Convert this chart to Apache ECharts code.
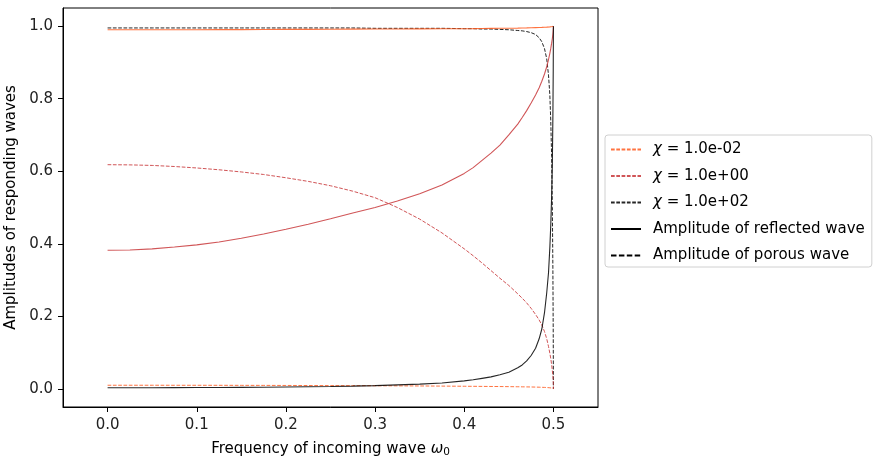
<!DOCTYPE html>
<html>
<head>
<meta charset="utf-8">
<script src="https://cdn.jsdelivr.net/npm/echarts@6/dist/echarts.min.js"></script>
<style>
  html, body { margin: 0; padding: 0; background: #fff; }
  #chart { width: 879px; height: 463px; }
</style>
</head>
<body>
<div id="chart"></div>
<script>
// Frequency samples (omega_0)
const omega = [0, 0.025, 0.05, 0.075, 0.1, 0.125, 0.15, 0.175, 0.2, 0.225, 0.25, 0.275, 0.3, 0.325, 0.35, 0.375, 0.4,
  0.41, 0.42, 0.43, 0.44, 0.45, 0.46, 0.465, 0.47, 0.475, 0.48, 0.484, 0.487, 0.49,
  0.4925, 0.4945, 0.496, 0.497, 0.498, 0.4988, 0.4994, 0.4998, 0.5];

// chi = 1e-2
const reflChi001 = [0.990, 0.990, 0.990, 0.990, 0.990, 0.9903, 0.9905, 0.9908, 0.991, 0.9912, 0.9915, 0.9918, 0.992, 0.9922, 0.9925, 0.9928, 0.993,
  0.9932, 0.9935, 0.9937, 0.994, 0.9943, 0.9946, 0.995, 0.9952, 0.9955, 0.9958, 0.9961, 0.9965, 0.997,
  0.9972, 0.9975, 0.998, 0.998, 0.9985, 0.999, 0.9995, 0.9998, 1.0];
const porChi001 = [0.0100, 0.0100, 0.0100, 0.0099, 0.0099, 0.0098, 0.0097, 0.0096, 0.0094, 0.0092, 0.0090, 0.0088, 0.0086, 0.0083, 0.0080, 0.0076, 0.0072,
  0.0070, 0.0068, 0.0066, 0.0064, 0.0061, 0.0058, 0.0056, 0.0054, 0.0052, 0.0049, 0.0046, 0.0043, 0.0040,
  0.0037, 0.0034, 0.0030, 0.0027, 0.0024, 0.0020, 0.0015, 0.0010, 0.0];

// chi = 1
const reflChi1 = [0.382, 0.383, 0.386, 0.391, 0.397, 0.405, 0.415, 0.427, 0.440, 0.454, 0.469, 0.485, 0.500, 0.518, 0.538, 0.562, 0.594,
  0.610, 0.630, 0.650, 0.672, 0.700, 0.730, 0.748, 0.767, 0.788, 0.810, 0.830, 0.848, 0.868,
  0.888, 0.908, 0.925, 0.938, 0.953, 0.966, 0.978, 0.990, 1.0];
const porChi1 = [0.618, 0.6175, 0.616, 0.613, 0.609, 0.604, 0.598, 0.591, 0.582, 0.572, 0.560, 0.545, 0.527, 0.500, 0.468, 0.430, 0.386,
  0.367, 0.347, 0.326, 0.305, 0.285, 0.262, 0.250, 0.237, 0.222, 0.205, 0.190, 0.176, 0.158,
  0.138, 0.117, 0.098, 0.084, 0.067, 0.050, 0.035, 0.018, 0.0];

// chi = 1e2
const reflChi100 = [0.003, 0.003, 0.0032, 0.0034, 0.0036, 0.0039, 0.0042, 0.0046, 0.0050, 0.0057, 0.0065, 0.0075, 0.009, 0.011, 0.013, 0.016, 0.022,
  0.025, 0.029, 0.033, 0.039, 0.046, 0.058, 0.066, 0.077, 0.092, 0.112, 0.138, 0.165, 0.210,
  0.265, 0.320, 0.390, 0.450, 0.530, 0.620, 0.750, 0.880, 1.0];
const porChi100 = [0.995, 0.995, 0.995, 0.995, 0.995, 0.995, 0.995, 0.995, 0.995, 0.995, 0.995, 0.995, 0.994, 0.994, 0.994, 0.994, 0.993,
  0.993, 0.992, 0.992, 0.991, 0.990, 0.988, 0.987, 0.985, 0.982, 0.977, 0.968, 0.957, 0.938,
  0.910, 0.865, 0.810, 0.740, 0.640, 0.500, 0.330, 0.150, 0.0];

const legendNames = ['χ = 1.0e-02', 'χ = 1.0e+00', 'χ = 1.0e+02', 'Amplitude of reflected wave', 'Amplitude of porous wave'];
const xTicks = [0, 0.1, 0.2, 0.3, 0.4, 0.5];
const yTicks = [0, 0.2, 0.4, 0.6, 0.8, 1.0];

const colOrange = '#ff5a1f';
const colRed = '#c8373a';
const colBlack = '#000000';

function pairs(xs, ys) { return xs.map((x, i) => [x, ys[i]]); }

const FONT = 'DejaVu Sans';
const FS = 15;

function curve(name, ys, color, dashed, z) {
  return {
    name: name,
    type: 'line',
    data: pairs(omega, ys),
    symbol: 'none',
    showSymbol: false,
    smooth: false,
    z: z,
    lineStyle: {
      color: color,
      width: dashed ? 1 : 1.1,
      type: dashed ? [3.7, 1.6] : 'solid',
      opacity: 0.85
    },
    itemStyle: { color: color },
    emphasis: { disabled: true },
    silent: true,
    animation: false
  };
}

const series = [
  curve(legendNames[0], porChi001, colOrange, true, 3),
  curve('refl001', reflChi001, colOrange, false, 3),
  curve(legendNames[1], porChi1, colRed, true, 4),
  curve('refl1', reflChi1, colRed, false, 4),
  curve(legendNames[2], porChi100, colBlack, true, 2),
  curve('refl100', reflChi100, colBlack, false, 5),
  { name: legendNames[3], type: 'line', data: [], symbol: 'none',
    lineStyle: { color: '#000', width: 2, type: 'solid' }, itemStyle: { color: '#000' } },
  { name: legendNames[4], type: 'line', data: [], symbol: 'none',
    lineStyle: { color: '#000', width: 2, type: [5.5, 2.4] }, itemStyle: { color: '#000' } }
];

const chart = echarts.init(document.getElementById('chart'), null, { renderer: 'canvas' });
chart.setOption({
  animation: false,
  backgroundColor: '#fff',
  textStyle: { fontFamily: FONT },
  grid: {
    left: 63, right: 281, top: 8, bottom: 56,
    containLabel: false,
    outerBoundsMode: 'none',
    show: true, borderColor: '#000', borderWidth: 1, backgroundColor: 'transparent'
  },
  legend: {
    data: legendNames,
    orient: 'vertical',
    left: 605, top: 135,
    itemWidth: 30, itemHeight: 14, itemGap: 11.5,
    padding: [7, 7, 4, 5],
    borderColor: '#d0d0d0', borderWidth: 1, borderRadius: 3,
    backgroundColor: '#fff',
    selectedMode: false,
    itemStyle: { opacity: 0 },
    formatter: function (name) {
      if (name.charAt(0) === 'χ') return '{p|}{i|χ}{t|' + name.slice(1) + '}';
      return '{p|}{t|' + name + '}';
    },
    textStyle: {
      fontFamily: FONT, fontSize: FS, color: '#000',
      rich: {
        p: { width: 7, fontSize: FS, fontFamily: FONT },
        i: { fontStyle: 'italic', fontSize: FS, fontFamily: FONT, color: '#000' },
        t: { fontSize: FS, fontFamily: FONT, color: '#000' }
      }
    }
  },
  xAxis: {
    type: 'value',
    min: -0.05, max: 0.55,
    name: 'Frequency of incoming wave {i|ω}{sub|0}',
    nameLocation: 'middle',
    nameGap: 33,
    nameTextStyle: {
      fontFamily: FONT, fontSize: FS, color: '#000',
      rich: {
        i: { fontStyle: 'italic', fontSize: FS, fontFamily: FONT, color: '#000' },
        sub: { fontSize: 10.5, fontFamily: FONT, color: '#000', verticalAlign: 'bottom', padding: [7, 0, 0, 0] }
      }
    },
    axisLine: { show: true, onZero: false, lineStyle: { color: '#000', width: 1 } },
    axisTick: { show: true, length: 5, inside: false, customValues: xTicks, lineStyle: { color: '#000' } },
    axisLabel: {
      customValues: xTicks, margin: 11, fontSize: FS, fontFamily: FONT, color: '#222',
      formatter: v => v.toFixed(1)
    },
    splitLine: { show: false }
  },
  yAxis: {
    type: 'value',
    min: -0.05, max: 1.05,
    name: 'Amplitudes of responding waves',
    nameLocation: 'middle',
    nameGap: 38,
    nameRotate: 90,
    nameTextStyle: { fontFamily: FONT, fontSize: FS, color: '#000' },
    axisLine: { show: true, onZero: false, lineStyle: { color: '#000', width: 1 } },
    axisTick: { show: true, length: 5, inside: false, customValues: yTicks, lineStyle: { color: '#000' } },
    axisLabel: {
      customValues: yTicks, margin: 10, fontSize: FS, fontFamily: FONT, color: '#222',
      formatter: v => v.toFixed(1)
    },
    splitLine: { show: false }
  },
  series: series
});
</script>
</body>
</html>
